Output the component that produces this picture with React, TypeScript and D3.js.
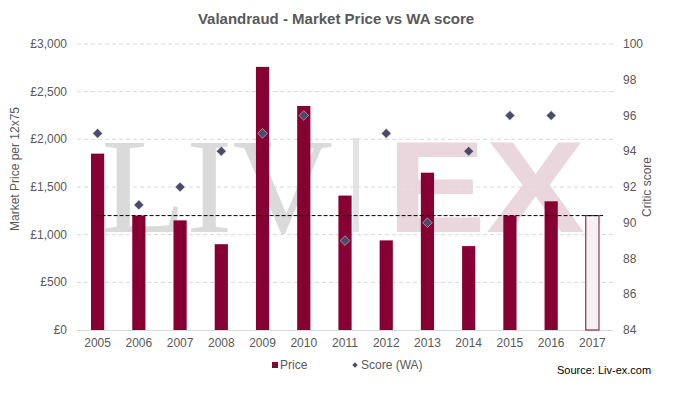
import { useEffect, useRef } from 'react';
import * as d3 from 'd3';

const years = ['2005', '2006', '2007', '2008', '2009', '2010', '2011', '2012', '2013', '2014', '2015', '2016', '2017'];
const prices = [1850, 1200, 1150, 900, 2760, 2350, 1410, 940, 1650, 880, 1200, 1350, 1200];
const scores = [95, 91, 92, 94, 95, 96, 89, 95, 90, 94, 96, 96, null];
const priceTicks = [0, 500, 1000, 1500, 2000, 2500, 3000];
const scoreTicks = [84, 86, 88, 90, 92, 94, 96, 98, 100];
const refPrice = 1200;

const W = 688;
const H = 397;
const FONT = '"Liberation Sans", Arial, sans-serif';
const TXT = '#595959';
const MAROON = '#870033';

const Chart = () => {
  const ref = useRef<SVGSVGElement>(null);

  useEffect(() => {
    const svg = d3.select(ref.current);
    svg.selectAll('*').remove();

    const left = 77;
    const right = 613;
    const top = 44;
    const bottom = 330;

    const x = d3.scaleBand().domain(years).range([left, right]);
    const y = d3.scaleLinear().domain([0, 3000]).range([bottom, top]);
    const y2 = d3.scaleLinear().domain([84, 100]).range([bottom, top]);
    const bw = x.bandwidth();
    const barW = bw * 0.32;

    // watermark (liv-ex logo)
    const wm = svg.append('g');
    wm.append('text')
      .attr('x', 101)
      .attr('y', 232)
      .attr('font-family', '"Liberation Serif", "DejaVu Serif", serif')
      .attr('font-size', 136)
      .attr('fill', '#dadada')
      .attr('textLength', 232)
      .attr('lengthAdjust', 'spacingAndGlyphs')
      .text('LIV');
    wm.append('rect').attr('x', 353).attr('y', 138).attr('width', 6).attr('height', 94).attr('fill', '#e3e2e8');
    wm.append('text')
      .attr('x', 387)
      .attr('y', 232)
      .attr('font-family', FONT)
      .attr('font-weight', 'bold')
      .attr('font-size', 130)
      .attr('fill', '#ead6dd')
      .attr('textLength', 198)
      .attr('lengthAdjust', 'spacingAndGlyphs')
      .text('EX');

    // gridlines
    svg.append('g')
      .selectAll('line')
      .data(priceTicks.filter((d) => d > 0))
      .join('line')
      .attr('x1', left)
      .attr('x2', right)
      .attr('y1', (d) => y(d))
      .attr('y2', (d) => y(d))
      .attr('stroke', '#d9d9d9')
      .attr('stroke-dasharray', '4,3');

    svg.append('line')
      .attr('x1', left)
      .attr('x2', right)
      .attr('y1', bottom + 0.5)
      .attr('y2', bottom + 0.5)
      .attr('stroke', '#d9d9d9');

    // bars
    svg.append('g')
      .selectAll('rect')
      .data(years)
      .join('rect')
      .attr('x', (d) => x(d)! + (bw - barW) / 2)
      .attr('y', (d, i) => y(prices[i]))
      .attr('width', barW)
      .attr('height', (d, i) => bottom - y(prices[i]))
      .attr('fill', (d, i) => (i === years.length - 1 ? '#f2f2f2' : MAROON))
      .attr('stroke', (d, i) => (i === years.length - 1 ? MAROON : 'none'))
      .attr('stroke-width', 1);

    // reference dashed line
    svg.append('line')
      .attr('x1', x(years[0])! + bw * 0.45)
      .attr('x2', x(years[years.length - 1])! + bw * 0.76)
      .attr('y1', y(refPrice))
      .attr('y2', y(refPrice))
      .attr('stroke', '#000')
      .attr('stroke-dasharray', '4,2');

    // score diamonds
    const diamond = d3.symbol().type(d3.symbolDiamond2).size(60);
    svg.append('g')
      .selectAll('path')
      .data(years.filter((d, i) => scores[i] != null))
      .join('path')
      .attr('d', diamond)
      .attr('transform', (d) => `translate(${x(d)! + bw / 2},${y2(scores[years.indexOf(d)] as number)})`)
      .attr('fill', '#4b4a6a')
      .attr('stroke', '#d0d0dc')
      .attr('stroke-width', 0.6);

    // axes text
    const t = svg.append('g').attr('font-family', FONT).attr('font-size', 12).attr('fill', TXT);
    t.selectAll('.yl')
      .data(priceTicks)
      .join('text')
      .attr('x', 67)
      .attr('y', (d) => y(d) + 4)
      .attr('text-anchor', 'end')
      .text((d) => '£' + d3.format(',')(d));
    t.selectAll('.yr')
      .data(scoreTicks)
      .join('text')
      .attr('x', 623)
      .attr('y', (d) => y2(d) + 4)
      .text((d) => d);
    t.selectAll('.xl')
      .data(years)
      .join('text')
      .attr('x', (d) => x(d)! + bw / 2)
      .attr('y', 347)
      .attr('text-anchor', 'middle')
      .text((d) => d);
    t.append('text')
      .attr('transform', 'translate(19,169) rotate(-90)')
      .attr('text-anchor', 'middle')
      .text('Market Price per 12x75');
    t.append('text')
      .attr('transform', 'translate(651,187) rotate(-90)')
      .attr('text-anchor', 'middle')
      .text('Critic score');

    // title
    svg.append('text')
      .attr('x', 336)
      .attr('y', 24)
      .attr('text-anchor', 'middle')
      .attr('font-family', FONT)
      .attr('font-size', 15)
      .attr('font-weight', 'bold')
      .attr('fill', TXT)
      .text('Valandraud - Market Price vs WA score');

    // legend
    const lg = svg.append('g').attr('font-family', FONT).attr('font-size', 12).attr('fill', TXT);
    lg.append('rect').attr('x', 272).attr('y', 362).attr('width', 6).attr('height', 6).attr('fill', MAROON);
    lg.append('text').attr('x', 280).attr('y', 369).text('Price');
    lg.append('path')
      .attr('d', d3.symbol().type(d3.symbolDiamond2).size(18))
      .attr('transform', 'translate(355,365)')
      .attr('fill', '#4b4a6a');
    lg.append('text').attr('x', 361).attr('y', 369).text('Score (WA)');

    svg.append('text')
      .attr('x', 557)
      .attr('y', 374)
      .attr('font-family', FONT)
      .attr('font-size', 11)
      .attr('fill', '#000')
      .text('Source: Liv-ex.com');
  }, []);

  return <svg ref={ref} width={W} height={H} style={{ display: 'block' }} />;
};

export default function App() {
  return (
    <div style={{ margin: -8 }}>
      <Chart />
    </div>
  );
}
